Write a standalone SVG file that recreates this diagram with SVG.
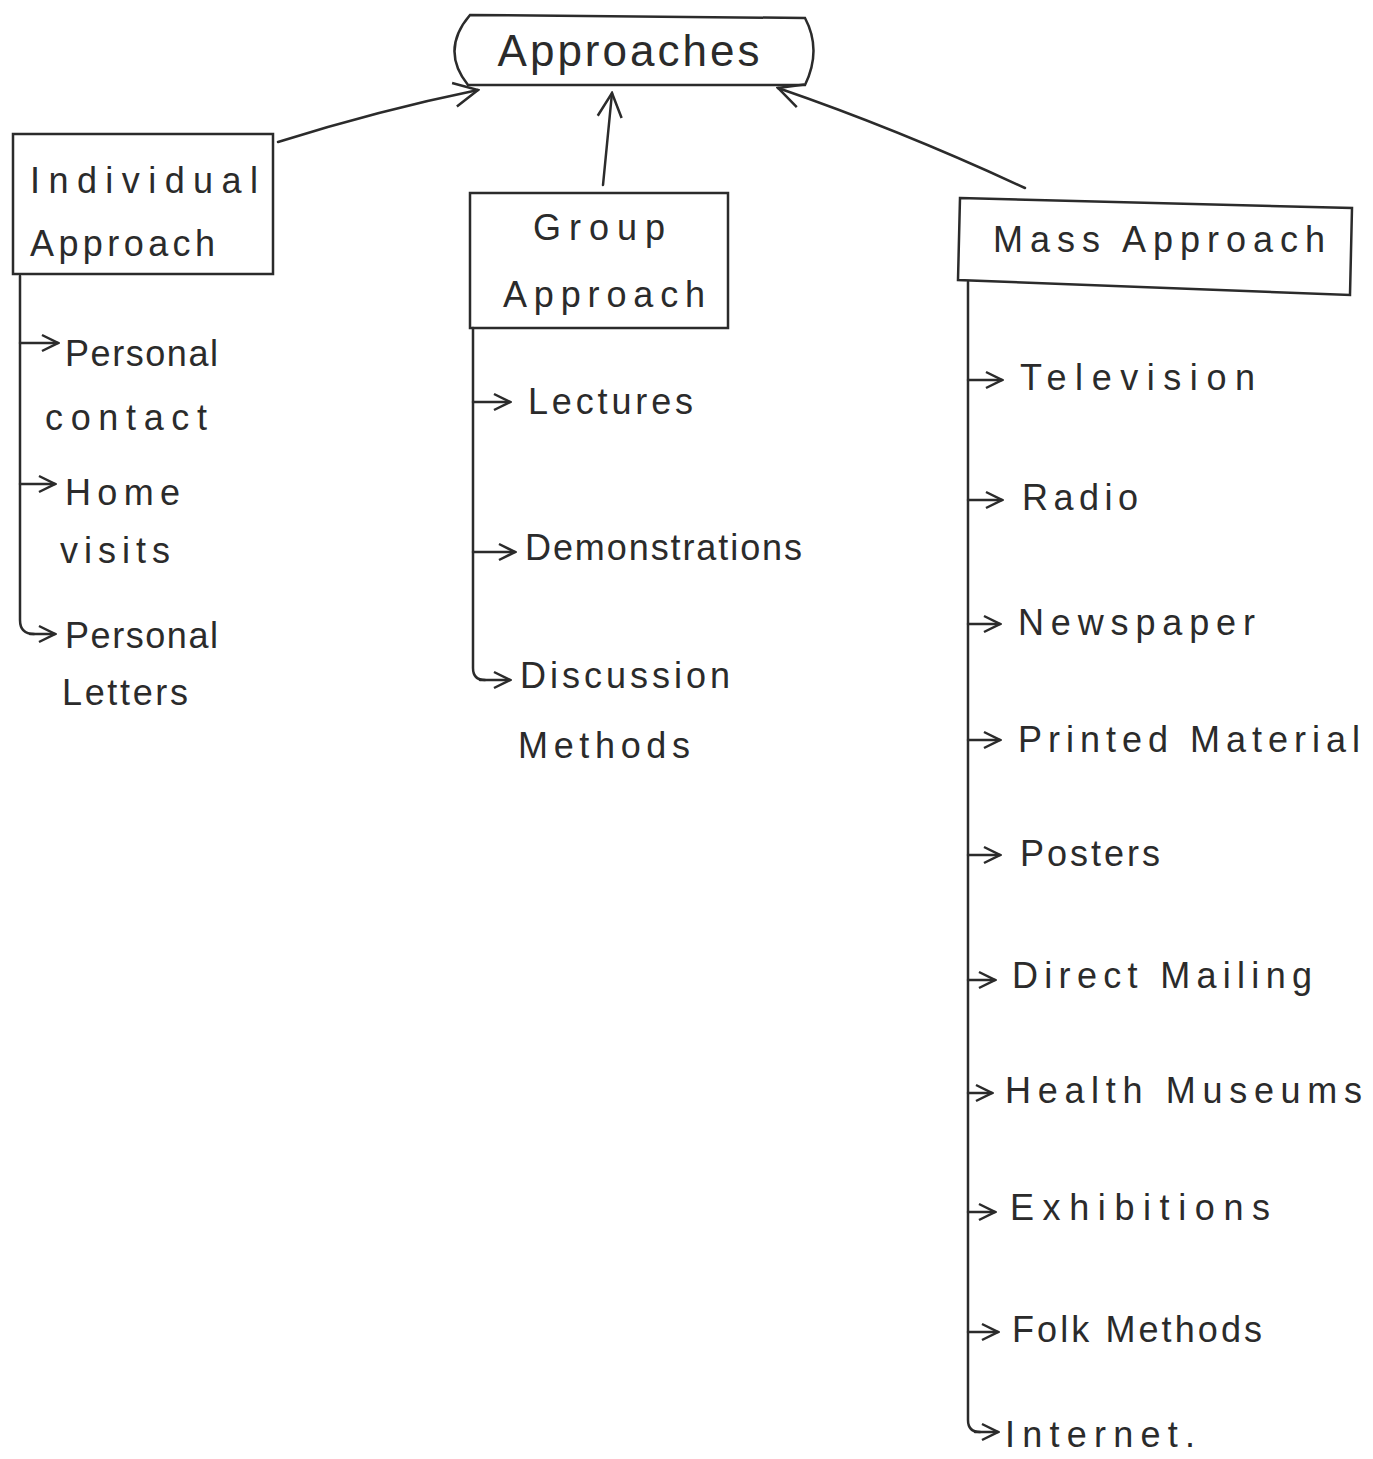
<svg xmlns="http://www.w3.org/2000/svg" width="1373" height="1459" viewBox="0 0 1373 1459">
<style>
.box{fill:none;stroke:#2b2b2b;stroke-width:2.5}
.ln{fill:none;stroke:#2b2b2b;stroke-width:2.5;stroke-linecap:round;stroke-linejoin:round}
text{font-family:"Liberation Sans",Arial,sans-serif;font-size:36px;fill:#2b2b2b}
.big{font-size:44px;letter-spacing:3px}
</style>
<defs>
<marker id="ah" viewBox="0 0 20 20" refX="18" refY="10" markerWidth="20" markerHeight="20" markerUnits="userSpaceOnUse" orient="auto">
<path d="M2,2 L18,10 L2,18" fill="none" stroke="#2b2b2b" stroke-width="2.5"/>
</marker>
<marker id="bh" viewBox="0 0 30 30" refX="28" refY="15" markerWidth="30" markerHeight="30" markerUnits="userSpaceOnUse" orient="auto">
<path d="M4,3 L28,15 L4,27" fill="none" stroke="#2b2b2b" stroke-width="2.5"/>
</marker>
</defs>
<rect width="1373" height="1459" fill="#fff"/>
<g id="approaches">
<path class="box" d="M470,15 L805,18 Q822,50 805,85 L468,85 Q440,50 470,15 Z"/>
<text class="big" x="630" y="66" text-anchor="middle">Approaches</text>
</g>
<g id="individual">
<rect class="box" x="13" y="134" width="260" height="140"/>
<text x="30" y="193" textLength="228" lengthAdjust="spacing">Individual</text>
<text x="30" y="256" textLength="185" lengthAdjust="spacing">Approach</text>
</g>
<g id="group">
<rect class="box" x="470" y="193" width="258" height="135"/>
<text x="533" y="240" textLength="132" lengthAdjust="spacing">Group</text>
<text x="503" y="307" textLength="202" lengthAdjust="spacing">Approach</text>
</g>
<g id="mass">
<path class="box" d="M960,198 L1352,208 L1350,295 L958,280 Z"/>
<text x="993" y="252" textLength="332" lengthAdjust="spacing">Mass Approach</text>
</g>
<g id="connectors">
<path class="ln" marker-end="url(#bh)" d="M278,142 Q380,110 478,90"/>
<path class="ln" marker-end="url(#bh)" d="M603,185 L612,93"/>
<path class="ln" marker-end="url(#bh)" d="M1025,188 Q900,130 778,88"/>
<path class="ln" d="M20,276 L20,620 Q20,634 34,634"/>
<path class="ln" marker-end="url(#ah)" d="M20,343 L58,343"/>
<path class="ln" marker-end="url(#ah)" d="M20,484 L55,484"/>
<path class="ln" marker-end="url(#ah)" d="M30,634 L55,634"/>
<path class="ln" d="M473,328 L473,668 Q473,680 485,680"/>
<path class="ln" marker-end="url(#ah)" d="M473,402 L510,402"/>
<path class="ln" marker-end="url(#ah)" d="M473,552 L515,552"/>
<path class="ln" marker-end="url(#ah)" d="M480,680 L510,680"/>
<path class="ln" d="M968,282 L968,1420 Q968,1432 980,1432"/>
<path class="ln" marker-end="url(#ah)" d="M968,380 L1002,380"/>
<path class="ln" marker-end="url(#ah)" d="M968,500 L1002,500"/>
<path class="ln" marker-end="url(#ah)" d="M968,624 L1000,624"/>
<path class="ln" marker-end="url(#ah)" d="M968,740 L1000,740"/>
<path class="ln" marker-end="url(#ah)" d="M968,855 L1000,855"/>
<path class="ln" marker-end="url(#ah)" d="M968,980 L995,980"/>
<path class="ln" marker-end="url(#ah)" d="M968,1093 L992,1093"/>
<path class="ln" marker-end="url(#ah)" d="M968,1212 L995,1212"/>
<path class="ln" marker-end="url(#ah)" d="M968,1332 L998,1332"/>
<path class="ln" marker-end="url(#ah)" d="M975,1432 L998,1432"/>
</g>
<g id="individual-items">
<text x="65" y="366" textLength="153" lengthAdjust="spacing">Personal</text>
<text x="45" y="430" textLength="162" lengthAdjust="spacing">contact</text>
<text x="65" y="505" textLength="115" lengthAdjust="spacing">Home</text>
<text x="60" y="563" textLength="110" lengthAdjust="spacing">visits</text>
<text x="65" y="648" textLength="153" lengthAdjust="spacing">Personal</text>
<text x="62" y="705" textLength="126" lengthAdjust="spacing">Letters</text>
</g>
<g id="group-items">
<text x="528" y="414" textLength="165" lengthAdjust="spacing">Lectures</text>
<text x="525" y="560" textLength="277" lengthAdjust="spacing">Demonstrations</text>
<text x="520" y="688" textLength="210" lengthAdjust="spacing">Discussion</text>
<text x="518" y="758" textLength="172" lengthAdjust="spacing">Methods</text>
</g>
<g id="mass-items">
<text x="1020" y="390" textLength="235" lengthAdjust="spacing">Television</text>
<text x="1022" y="510" textLength="116" lengthAdjust="spacing">Radio</text>
<text x="1018" y="635" textLength="237" lengthAdjust="spacing">Newspaper</text>
<text x="1018" y="752" textLength="342" lengthAdjust="spacing">Printed Material</text>
<text x="1020" y="866" textLength="140" lengthAdjust="spacing">Posters</text>
<text x="1012" y="988" textLength="300" lengthAdjust="spacing">Direct Mailing</text>
<text x="1005" y="1103" textLength="357" lengthAdjust="spacing">Health Museums</text>
<text x="1010" y="1220" textLength="260" lengthAdjust="spacing">Exhibitions</text>
<text x="1012" y="1342" textLength="250" lengthAdjust="spacing">Folk Methods</text>
<text x="1005" y="1447" textLength="190" lengthAdjust="spacing">Internet.</text>
</g>
</svg>
